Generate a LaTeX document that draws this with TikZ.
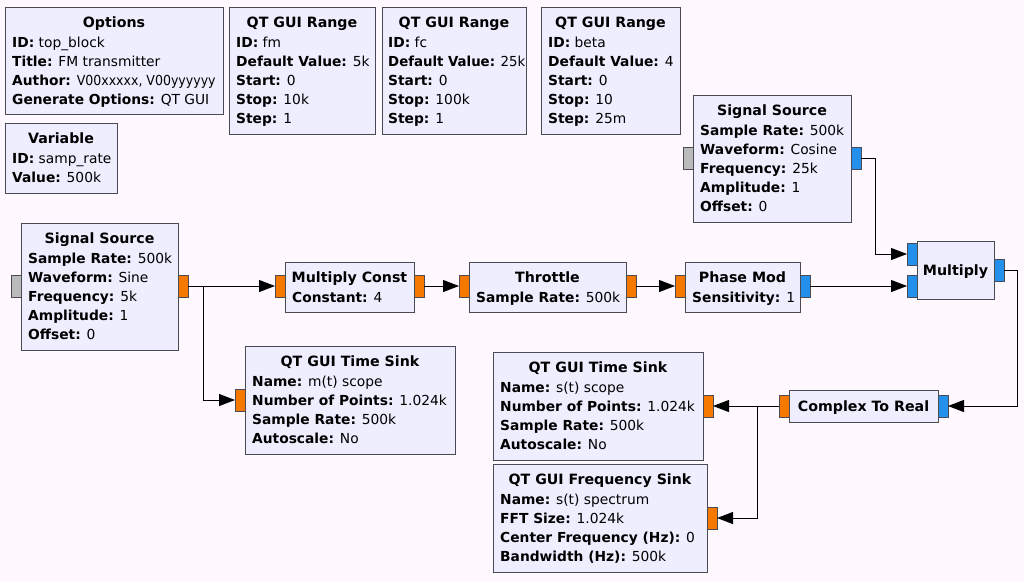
\documentclass[tikz,border=0pt]{standalone}
\usepackage{fontspec}
\usepackage{graphicx}
\setmainfont{DejaVu Sans}
\usetikzlibrary{arrows.meta,fit}
\definecolor{bgc}{RGB}{255,248,255}
\definecolor{blockc}{RGB}{238,238,255}
\definecolor{bordc}{RGB}{75,75,85}
\definecolor{fltc}{RGB}{245,121,0}
\definecolor{cpxc}{RGB}{35,145,235}
\definecolor{msgc}{RGB}{187,187,187}
\tikzset{
 blk/.style={draw=bordc, fill=blockc, line width=1pt, inner sep=0pt, outer sep=0pt},
 port/.style={draw=bordc, line width=1pt, inner sep=0pt, outer sep=0pt},
 ptxt/.style={anchor=base west, inner sep=0pt, font=\fontsize{13.8}{16}\selectfont},
 ttxt/.style={anchor=base, inner sep=0pt, font=\fontsize{14.2}{16}\selectfont\bfseries},
 wire/.style={line width=1pt, draw=black},
 arr/.style={-{Triangle[length=16pt,width=12pt]}},
}
% name x1 y1 x2 y2 title
\newcommand\gblk[6]{%
 \node[blk, fit={(#2,#3) (#4,#5)}] (#1) {};
 \node[ttxt] (#1-t) at ({(#2+#4)/2},{#3+20}) {#6};}
% name x1 y1 x2 y2 title (title centred vertically)
\newcommand\gblc[6]{%
 \node[blk, fit={(#2,#3) (#4,#5)}] (#1) {};
 \node[ttxt] (#1-t) at ({(#2+#4)/2},{(#3+#5)/2+5}) {#6};}
% name x y key value
\newcommand\gln[5]{\node[ptxt] (#1) at (#2,#3) {\textbf{#4} #5};}
% name x1 y1 x2 y2 colour
\newcommand\gprt[6]{\node[port, fill=#6, fit={(#2,#3) (#4,#5)}] (#1) {};}
\begin{document}
\begin{tikzpicture}[x=1pt,y=-1pt]
\useasboundingbox[fill=bgc] (0,0) rectangle (1024,582);

% Options
\gblk{opts}{5}{7}{223}{114}{Options}
\gln{opts-1}{12}{47}{ID:}{top\_block}
\gln{opts-2}{12}{66}{Title:}{FM transmitter}
\gln{opts-3}{12}{85}{Author:}{\scalebox{0.91}[1]{V00xxxxx, V00yyyyyy}}
\gln{opts-4}{12}{104}{Generate Options:}{QT GUI}

% Variable
\gblk{var}{5}{123}{117}{193}{Variable}
\gln{var-1}{12}{163}{ID:}{samp\_rate}
\gln{var-2}{12}{182}{Value:}{500k}

% QT GUI Range fm
\gblk{rfm}{229}{7}{375}{134}{QT GUI Range}
\gln{rfm-1}{236}{47}{ID:}{fm}
\gln{rfm-2}{236}{66}{Default Value:}{5k}
\gln{rfm-3}{236}{85}{Start:}{0}
\gln{rfm-4}{236}{104}{Stop:}{10k}
\gln{rfm-5}{236}{123}{Step:}{1}

% QT GUI Range fc
\gblk{rfc}{382}{7}{526}{134}{QT GUI Range}
\gln{rfc-1}{388}{47}{ID:}{fc}
\node[ptxt] (rfc-2) at (388,66) {\scalebox{0.965}[1]{\textbf{Default Value:} 25k}};
\gln{rfc-3}{388}{85}{Start:}{0}
\gln{rfc-4}{388}{104}{Stop:}{100k}
\gln{rfc-5}{388}{123}{Step:}{1}

% QT GUI Range beta
\gblk{rbeta}{541}{7}{680}{134}{QT GUI Range}
\gln{rbeta-1}{548}{47}{ID:}{beta}
\gln{rbeta-2}{548}{66}{Default Value:}{4}
\gln{rbeta-3}{548}{85}{Start:}{0}
\gln{rbeta-4}{548}{104}{Stop:}{10}
\gln{rbeta-5}{548}{123}{Step:}{25m}

% Signal Source (cosine)
\gblk{src2}{693}{95}{851}{222}{Signal Source}
\gln{src2-1}{700}{135}{Sample Rate:}{500k}
\gln{src2-2}{700}{154}{Waveform:}{Cosine}
\gln{src2-3}{700}{173}{Frequency:}{25k}
\gln{src2-4}{700}{192}{Amplitude:}{1}
\gln{src2-5}{700}{211}{Offset:}{0}
\gprt{src2in}{683}{147}{693}{169}{msgc}
\gprt{src2out}{851}{147}{861}{169}{cpxc}

% Signal Source (sine)
\gblk{src1}{21}{223}{178}{350}{Signal Source}
\gln{src1-1}{28}{263}{Sample Rate:}{500k}
\gln{src1-2}{28}{282}{Waveform:}{Sine}
\gln{src1-3}{28}{301}{Frequency:}{5k}
\gln{src1-4}{28}{320}{Amplitude:}{1}
\gln{src1-5}{28}{339}{Offset:}{0}
\gprt{src1in}{11}{275}{21}{297}{msgc}
\gprt{src1out}{178}{275}{188}{297}{fltc}

% Multiply Const
\gblk{mulc}{285}{262}{414}{312}{Multiply Const}
\gln{mulc-1}{292}{302}{Constant:}{4}
\gprt{mulcin}{275}{275}{285}{297}{fltc}
\gprt{mulcout}{414}{275}{424}{297}{fltc}

% Throttle
\gblk{thr}{469}{262}{626}{312}{Throttle}
\gln{thr-1}{476}{302}{Sample Rate:}{500k}
\gprt{thrin}{459}{275}{469}{297}{fltc}
\gprt{throut}{626}{275}{636}{297}{fltc}

% Phase Mod
\gblk{pmod}{685}{262}{800}{312}{Phase Mod}
\gln{pmod-1}{692}{302}{Sensitivity:}{1}
\gprt{pmodin}{675}{275}{685}{297}{fltc}
\gprt{pmodout}{800}{275}{810}{297}{cpxc}

% Multiply
\gblc{mult}{917}{241}{994}{299}{Multiply}
\gprt{multin1}{907}{243}{917}{265}{cpxc}
\gprt{multin2}{907}{275}{917}{297}{cpxc}
\gprt{multout}{994}{259}{1004}{281}{cpxc}

% QT GUI Time Sink m(t)
\gblk{ts1}{245}{346}{455}{454}{QT GUI Time Sink}
\gln{ts1-1}{252}{386}{Name:}{m(t) scope}
\gln{ts1-2}{252}{405}{Number of Points:}{1.024k}
\gln{ts1-3}{252}{424}{Sample Rate:}{500k}
\gln{ts1-4}{252}{443}{Autoscale:}{No}
\gprt{ts1in}{235}{389}{245}{411}{fltc}

% QT GUI Time Sink s(t)
\gblk{ts2}{493}{352}{703}{460}{QT GUI Time Sink}
\gln{ts2-1}{500}{392}{Name:}{s(t) scope}
\gln{ts2-2}{500}{411}{Number of Points:}{1.024k}
\gln{ts2-3}{500}{430}{Sample Rate:}{500k}
\gln{ts2-4}{500}{449}{Autoscale:}{No}
\gprt{ts2in}{703}{395}{713}{417}{fltc}

% Complex To Real
\gblc{c2r}{789}{390}{938}{422}{Complex To Real}
\gprt{c2rout}{779}{395}{789}{417}{fltc}
\gprt{c2rin}{938}{395}{948}{417}{cpxc}

% QT GUI Frequency Sink
\gblk{fs}{493}{464}{707}{572}{QT GUI Frequency Sink}
\gln{fs-1}{500}{504}{Name:}{s(t) spectrum}
\gln{fs-2}{500}{523}{FFT Size:}{1.024k}
\gln{fs-3}{500}{542}{Center Frequency (Hz):}{0}
\gln{fs-4}{500}{561}{Bandwidth (Hz):}{500k}
\gprt{fsin}{707}{507}{717}{529}{fltc}

% connections
\coordinate (b1) at (203,286);
\coordinate (r2) at (875,158);
\coordinate (r1) at (1017,270);
\coordinate (b2) at (757,406);
\draw[wire,arr] (src1out.east) -- (mulcin.west);
\draw[wire,arr] (b1) |- (ts1in.west);
\draw[wire,arr] (mulcout.east) -- (thrin.west);
\draw[wire,arr] (throut.east) -- (pmodin.west);
\draw[wire,arr] (pmodout.east) -- (multin2.west);
\draw[wire,arr] (src2out.east) -- (r2) |- (multin1.west);
\draw[wire,arr] (multout.east) -- (r1) |- (c2rin.east);
\draw[wire,arr] (c2rout.west) -- (ts2in.east);
\draw[wire,arr] (b2) |- (fsin.east);
\end{tikzpicture}
\end{document}
